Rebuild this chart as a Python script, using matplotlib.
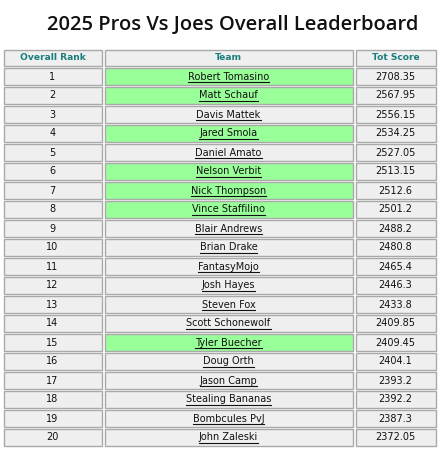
import matplotlib
matplotlib.use("Agg")
import matplotlib.pyplot as plt
from matplotlib.patches import Rectangle

title = "2025 Pros Vs Joes Overall Leaderboard"
headers = ["Overall Rank", "Team", "Tot Score"]
ranks = list(range(1, 21))
teams = ["Robert Tomasino", "Matt Schauf", "Davis Mattek", "Jared Smola", "Daniel Amato",
         "Nelson Verbit", "Nick Thompson", "Vince Staffilino", "Blair Andrews", "Brian Drake",
         "FantasyMojo", "Josh Hayes", "Steven Fox", "Scott Schonewolf", "Tyler Buecher",
         "Doug Orth", "Jason Camp", "Stealing Bananas", "Bombcules PvJ", "John Zaleski"]
scores = ["2708.35", "2567.95", "2556.15", "2534.25", "2527.05", "2513.15", "2512.6", "2501.2",
          "2488.2", "2480.8", "2465.4", "2446.3", "2433.8", "2409.85", "2409.45", "2404.1",
          "2393.2", "2392.2", "2387.3", "2372.05"]
highlight = [True, True, False, True, False, True, True, True, False, False,
             False, False, False, False, True, False, False, False, False, False]

W, H = 441, 451
fig = plt.figure(figsize=(W/100, H/100), dpi=100)
ax = fig.add_axes([0, 0, 1, 1])
ax.set_xlim(0, W); ax.set_ylim(H, 0); ax.axis("off")

ax.text(233, 25, title, ha="center", va="center", fontsize=14.5, fontweight="semibold",
        family="Open Sans", color="#111111")

cols = [(3, 102), (104, 353), (355, 436)]
gray, green, border = "#efefef", "#99ff99", "#a9a9a9"

def cell(x0, x1, y0, y1, fc):
    ax.add_patch(Rectangle((x0 + 0.5, y0 + 0.5), x1 - x0 - 1, y1 - y0 - 1, fc=fc, ec=border, lw=1.0))

hy0, hy1 = 49, 66
for (x0, x1), h in zip(cols, headers):
    cell(x0, x1, hy0, hy1, gray)
    ax.text((x0 + x1) / 2, (hy0 + hy1) / 2 + 0.5, h, ha="center", va="center", fontsize=6.6,
            fontweight="bold", color="#1b7e7e", family="DejaVu Sans")

under = []
for i in range(20):
    y0 = 67 + i * 19; y1 = y0 + 18
    yc = (y0 + y1) / 2 + 0.5
    cell(*cols[0], y0, y1, gray)
    cell(*cols[1], y0, y1, green if highlight[i] else gray)
    cell(*cols[2], y0, y1, gray)
    ax.text(sum(cols[0]) / 2, yc, str(ranks[i]), ha="center", va="center", fontsize=7, color="#111111")
    t = ax.text(sum(cols[1]) / 2, yc, teams[i], ha="center", va="center", fontsize=7, color="#111111")
    under.append((t, y1 - 3))
    ax.text(sum(cols[2]) / 2, yc, scores[i], ha="center", va="center", fontsize=7, color="#111111")

fig.canvas.draw()
r = fig.canvas.get_renderer()
inv = ax.transData.inverted()
for t, yl in under:
    bb = t.get_window_extent(r)
    (xa, _), (xb, _) = inv.transform([(bb.x0, bb.y0), (bb.x1, bb.y0)])
    ax.plot([xa, xb], [yl, yl], color="#111111", lw=0.8)

fig.savefig("out.png", dpi=100)
